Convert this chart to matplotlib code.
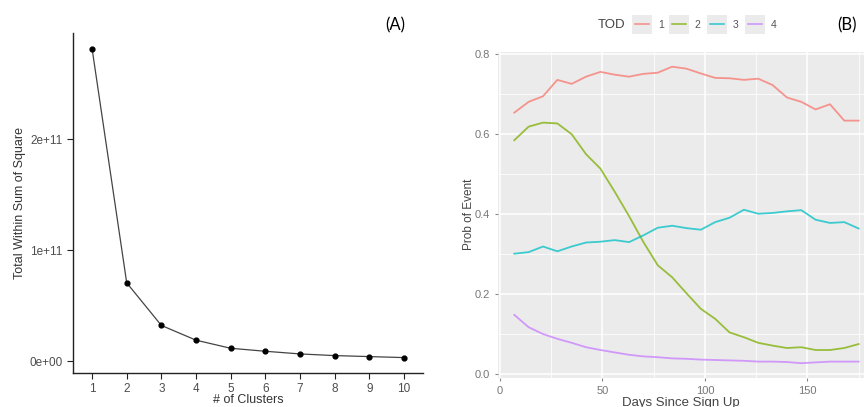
import matplotlib
matplotlib.use("Agg")
import matplotlib.pyplot as plt
from matplotlib.patches import Rectangle
from matplotlib.lines import Line2D
from matplotlib.ticker import FuncFormatter, MultipleLocator

plt.rcParams["font.family"] = ["Liberation Sans", "DejaVu Sans"]

# (A) elbow plot
n_clusters = [1, 2, 3, 4, 5, 6, 7, 8, 9, 10]
total_wss = [2.82e11, 0.707e11, 0.323e11, 0.19e11, 0.117e11,
             0.09e11, 0.066e11, 0.051e11, 0.042e11, 0.033e11]

# (B) probability of event by time of day
days = [7, 14, 21, 28, 35, 42, 49, 56, 63, 70, 77, 84, 91,
        98, 105, 112, 119, 126, 133, 140, 147, 154, 161, 168, 175]
tod_labels = ["1", "2", "3", "4"]
tod_1 = [0.654, 0.681, 0.695, 0.736, 0.726, 0.744, 0.756, 0.749, 0.744, 0.751,
         0.754, 0.769, 0.764, 0.752, 0.741, 0.740, 0.736, 0.739, 0.723, 0.692,
         0.681, 0.662, 0.675, 0.634, 0.634]
tod_2 = [0.585, 0.619, 0.629, 0.627, 0.600, 0.550, 0.514, 0.456, 0.395, 0.330,
         0.272, 0.242, 0.202, 0.163, 0.138, 0.104, 0.092, 0.078, 0.071, 0.065,
         0.067, 0.060, 0.060, 0.065, 0.075]
tod_3 = [0.301, 0.305, 0.319, 0.307, 0.319, 0.329, 0.331, 0.335, 0.330, 0.347,
         0.366, 0.371, 0.365, 0.361, 0.380, 0.391, 0.411, 0.401, 0.403, 0.407,
         0.410, 0.386, 0.378, 0.380, 0.364]
tod_4 = [0.148, 0.117, 0.100, 0.088, 0.078, 0.067, 0.060, 0.054, 0.048, 0.044,
         0.042, 0.039, 0.038, 0.036, 0.035, 0.034, 0.033, 0.031, 0.031, 0.030,
         0.027, 0.029, 0.031, 0.031, 0.031]
tod_colors = ["#F8766D", "#7CAE00", "#00BFC4", "#C77CFF"]

W, H = 864, 407
fig = plt.figure(figsize=(8.64, 4.07), dpi=100)

# ---- left panel ----
axA = fig.add_axes([73 / W, 1 - 373 / H, 350 / W, 340 / H])
axA.plot(n_clusters, total_wss, color="#444444", lw=0.9)
axA.scatter(n_clusters, total_wss, color="black", s=12, zorder=3)
axA.set_xlim(0.45, 10.55)
axA.set_ylim(-0.106e11, 2.96e11)
axA.set_xticks(n_clusters)
axA.set_yticks([0, 1e11, 2e11])
axA.yaxis.set_major_formatter(FuncFormatter(lambda v, p: f"{v:.0e}"))
for s in ["top", "right"]:
    axA.spines[s].set_visible(False)
for s in ["left", "bottom"]:
    axA.spines[s].set_color("#222222")
    axA.spines[s].set_linewidth(1.0)
axA.tick_params(labelsize=8.5, labelcolor="#4d4d4d", length=4, color="#222222")
axA.tick_params(axis="x", pad=3)
axA.set_xlabel("# of Clusters", fontsize=9, color="#333333", labelpad=-0.5)
axA.set_ylabel("Total Within Sum of Square", fontsize=9, color="#333333", labelpad=2.5)
fig.text(395 / W, 1 - 25 / H, "(A)", fontsize=12, family="Lato",
         ha="center", va="center")

# ---- right panel ----
axB = fig.add_axes([498.3 / W, 1 - 377.7 / H, (W - 498.3) / W, (377.7 - 51.7) / H])
axB.set_facecolor("#EBEBEB")
series = [tod_1, tod_2, tod_3, tod_4]
for vals, col in zip(series, tod_colors):
    axB.plot(days, vals, color=col, lw=1.3, alpha=0.75)
axB.set_xlim(-0.8, 177.6)
axB.set_ylim(-0.0093, 0.8065)
axB.xaxis.set_major_locator(MultipleLocator(50))
axB.xaxis.set_minor_locator(MultipleLocator(25))
axB.yaxis.set_major_locator(MultipleLocator(0.2))
axB.yaxis.set_minor_locator(MultipleLocator(0.1))
axB.yaxis.set_major_formatter(FuncFormatter(lambda v, p: f"{v:.1f}"))
axB.grid(which="major", color="white", lw=1.1)
axB.grid(which="minor", color="white", lw=0.55)
axB.set_axisbelow(True)
for s in axB.spines.values():
    s.set_visible(False)
axB.tick_params(which="major", labelsize=8, labelcolor="#777777", length=2.5,
                color="#888888", width=0.8)
axB.tick_params(which="minor", length=0)
axB.set_xlabel("Days Since Sign Up", fontsize=9.5, color="#444444", labelpad=0.5)
axB.set_ylabel("Prob of Event", fontsize=8.5, color="#444444", labelpad=0)

# legend across the top
fig.text(612 / W, 1 - 25 / H, "TOD", fontsize=9.5, color="#444444",
         ha="center", va="center")
key_x = [632, 668.5, 706.5, 745]
for kx, lab, col in zip(key_x, tod_labels, tod_colors):
    fig.patches.append(Rectangle((kx / W, 1 - 33.5 / H), 20 / W, 19 / H,
                                 transform=fig.transFigure, facecolor="#EBEBEB",
                                 edgecolor="none"))
    fig.lines.append(Line2D([(kx + 3) / W, (kx + 17) / W], [1 - 24 / H, 1 - 24 / H],
                            transform=fig.transFigure, color=col, lw=1.2, alpha=0.75))
    fig.text((kx + 29) / W, 1 - 25 / H, lab, fontsize=7.5, color="#555555",
             ha="center", va="center")
fig.text(847 / W, 1 - 25 / H, "(B)", fontsize=12, family="Lato",
         ha="center", va="center")

fig.savefig("out.png", dpi=100)
